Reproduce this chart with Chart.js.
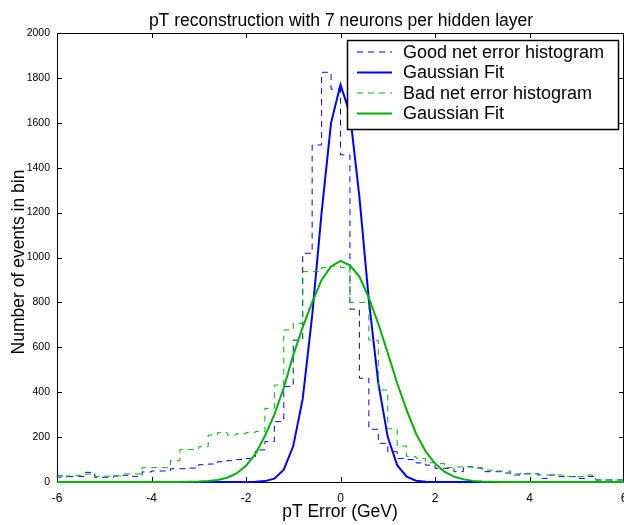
<!DOCTYPE html>
<html>
<head>
<meta charset="utf-8">
<script src="https://cdn.jsdelivr.net/npm/chart.js@4.4.1/dist/chart.umd.min.js"></script>
<style>
    html, body { margin: 0; padding: 0; background: #fff; }
    canvas { display: block; }
</style>
</head>
<body>
<canvas id="chart" width="624" height="525"></canvas>
<script>
// bin edges (GeV), histogram bins are 0.2 wide
const binEdges = [
    -6.0, -5.8, -5.6, -5.4, -5.2, -5.0, -4.8, -4.6, -4.4, -4.2,
    -4.0, -3.8, -3.6, -3.4, -3.2, -3.0, -2.8, -2.6, -2.4, -2.2,
    -2.0, -1.8, -1.6, -1.4, -1.2, -1.0, -0.8, -0.6, -0.4, -0.2,
     0.0,  0.2,  0.4,  0.6,  0.8,  1.0,  1.2,  1.4,  1.6,  1.8,
     2.0,  2.2,  2.4,  2.6,  2.8,  3.0,  3.2,  3.4,  3.6,  3.8,
     4.0,  4.2,  4.4,  4.6,  4.8,  5.0,  5.2,  5.4,  5.6,  5.8,
     6.0
];

// events per bin, one value per bin (left edge -> right edge)
const goodCounts = [
    27, 27, 24, 24, 43, 21, 21, 27, 30, 25,
    45, 49, 49, 59, 59, 62, 77, 80, 90, 95,
    100, 105, 143, 180, 269, 425, 632, 1019, 1501, 1825,
    1750, 1457, 770, 462, 235, 172, 135, 105, 100, 85,
    75, 61, 61, 46, 68, 63, 46, 46, 40, 31,
    36, 36, 16, 31, 24, 24, 16, 24, 9, 9
];
const badCounts = [
    28, 20, 27, 30, 35, 25, 26, 27, 36, 36,
    64, 64, 64, 95, 145, 145, 157, 209, 220, 209,
    215, 221, 225, 328, 432, 677, 707, 937, 937, 955,
    962, 955, 800, 800, 632, 410, 237, 160, 113, 105,
    86, 83, 64, 67, 67, 61, 53, 49, 49, 36,
    39, 36, 31, 31, 31, 24, 24, 31, 9, 9
];

// gaussian fits, sampled on the bin edges
const goodFit = [
    0, 0, 0, 0, 0, 0, 0, 0, 0, 0,
    0, 0, 0, 0, 0, 0, 0, 0, 0, 0,
    0, 1, 4, 15, 55, 160, 370, 740, 1200, 1600,
    1770, 1640, 1270, 810, 440, 200, 75, 24, 6, 1,
    0, 0, 0, 0, 0, 0, 0, 0, 0, 0,
    0, 0, 0, 0, 0, 0, 0, 0, 0, 0,
    0
];
const badFit = [
    0, 0, 0, 0, 0, 0, 0, 0, 0, 0,
    0, 0, 0, 0, 1, 2, 4, 9, 19, 38,
    72, 125, 205, 300, 420, 565, 690, 800, 900, 960,
    985, 965, 915, 820, 705, 575, 440, 320, 215, 137,
    82, 46, 24, 12, 5, 2, 1, 0, 0, 0,
    0, 0, 0, 0, 0, 0, 0, 0, 0, 0,
    0
];

const xTicks = [-6, -4, -2, 0, 2, 4, 6];
const yTicks = [0, 200, 400, 600, 800, 1000, 1200, 1400, 1600, 1800, 2000];

const BLUE = 'rgb(0, 0, 255)';
const GREEN = 'rgb(0, 180, 0)';
const FONT = '"Liberation Sans", Arial, Helvetica, sans-serif';

// stairs: each bin value held from its left edge to the next edge
function stairs(counts) {
    return binEdges.map((x, i) => ({ x, y: counts[Math.min(i, counts.length - 1)] }));
}

function curve(values) {
    return binEdges.map((x, i) => ({ x, y: values[i] }));
}

// axes box with inward tick marks on all four sides
const axesBox = {
    id: 'axesBox',
    beforeDatasetsDraw(chart) {
        const { ctx, chartArea: a, scales } = chart;
        const len = 5;
        ctx.save();
        ctx.strokeStyle = '#000';
        ctx.lineWidth = 1;
        ctx.beginPath();
        xTicks.forEach(v => {
            const px = Math.round(scales.x.getPixelForValue(v)) + 0.5;
            ctx.moveTo(px, a.bottom);
            ctx.lineTo(px, a.bottom - len);
            ctx.moveTo(px, a.top);
            ctx.lineTo(px, a.top + len);
        });
        yTicks.forEach(v => {
            const py = Math.round(scales.y.getPixelForValue(v)) + 0.5;
            ctx.moveTo(a.left, py);
            ctx.lineTo(a.left + len, py);
            ctx.moveTo(a.right, py);
            ctx.lineTo(a.right - len, py);
        });
        ctx.stroke();
        ctx.strokeRect(Math.round(a.left) + 0.5, Math.round(a.top) + 0.5,
            Math.round(a.right - a.left) - 1, Math.round(a.bottom - a.top));
        ctx.restore();
    }
};

// title and axis labels
const labels = {
    id: 'labels',
    afterDraw(chart) {
        const { ctx } = chart;
        ctx.save();
        ctx.fillStyle = '#000';
        ctx.textAlign = 'center';
        ctx.textBaseline = 'middle';
        ctx.font = '17.5px ' + FONT;
        ctx.fillText('pT reconstruction with 7 neurons per hidden layer', 341, 21);
        ctx.fillText('pT Error (GeV)', 340, 512);
        ctx.translate(19, 262);
        ctx.rotate(-Math.PI / 2);
        ctx.fillText('Number of events in bin', 0, 0);
        ctx.restore();
    }
};

// boxed legend drawn over the data, top right
const boxLegend = {
    id: 'boxLegend',
    afterDraw(chart) {
        const { ctx } = chart;
        const box = { x: 347, y: 40, w: 271, h: 89 };
        ctx.save();
        ctx.fillStyle = '#fff';
        ctx.fillRect(box.x, box.y, box.w, box.h);
        ctx.strokeStyle = '#000';
        ctx.lineWidth = 1.5;
        ctx.strokeRect(box.x + 0.5, box.y + 0.5, box.w, box.h);
        ctx.font = '18px ' + FONT;
        ctx.textBaseline = 'middle';
        ctx.textAlign = 'left';
        chart.data.datasets.forEach((ds, i) => {
            const y = box.y + 12 + i * 20.5;
            ctx.strokeStyle = ds.borderColor;
            ctx.lineWidth = ds.borderWidth;
            ctx.setLineDash(ds.borderDash || []);
            ctx.beginPath();
            ctx.moveTo(box.x + 10, y);
            ctx.lineTo(box.x + 45, y);
            ctx.stroke();
            ctx.setLineDash([]);
            ctx.fillStyle = '#000';
            ctx.fillText(ds.label, box.x + 56, y + 1);
        });
        ctx.restore();
    }
};

new Chart(document.getElementById('chart').getContext('2d'), {
    type: 'line',
    data: {
        datasets: [
            {
                label: 'Good net error histogram',
                data: stairs(goodCounts),
                stepped: 'after',
                borderColor: BLUE,
                borderWidth: 1,
                borderDash: [6, 5],
                order: 4
            },
            {
                label: 'Gaussian Fit',
                data: curve(goodFit),
                borderColor: BLUE,
                borderWidth: 2,
                order: 3
            },
            {
                label: 'Bad net error histogram',
                data: stairs(badCounts),
                stepped: 'after',
                borderColor: GREEN,
                borderWidth: 1,
                borderDash: [6, 5],
                order: 2
            },
            {
                label: 'Gaussian Fit',
                data: curve(badFit),
                borderColor: GREEN,
                borderWidth: 2,
                order: 1
            }
        ]
    },
    options: {
        responsive: false,
        animation: false,
        clip: false,
        elements: {
            point: { radius: 0 },
            line: { tension: 0, fill: false }
        },
        layout: {
            padding: { top: 33, right: 0, left: 0, bottom: 0 }
        },
        plugins: {
            legend: { display: false },
            title: { display: false },
            tooltip: { enabled: false }
        },
        scales: {
            x: {
                type: 'linear',
                min: -6,
                max: 6,
                afterFit: s => {
                    s.height = 43;
                    s.paddingLeft = 0;
                    s.paddingRight = 0;
                },
                afterBuildTicks: s => { s.ticks = xTicks.map(value => ({ value })); },
                grid: { display: false, drawTicks: false },
                border: { display: false },
                ticks: {
                    color: '#000',
                    padding: 9,
                    maxRotation: 0,
                    font: { family: FONT, size: 12 },
                    callback: v => String(v)
                }
            },
            y: {
                min: 0,
                max: 2000,
                afterFit: s => {
                    s.width = 57;
                    s.paddingTop = 0;
                    s.paddingBottom = 0;
                },
                afterBuildTicks: s => { s.ticks = yTicks.map(value => ({ value })); },
                grid: { display: false, drawTicks: false },
                border: { display: false },
                ticks: {
                    color: '#000',
                    padding: 7,
                    font: { family: FONT, size: 10.5 },
                    callback: v => String(v)
                }
            }
        }
    },
    plugins: [axesBox, labels, boxLegend]
});
</script>
</body>
</html>
